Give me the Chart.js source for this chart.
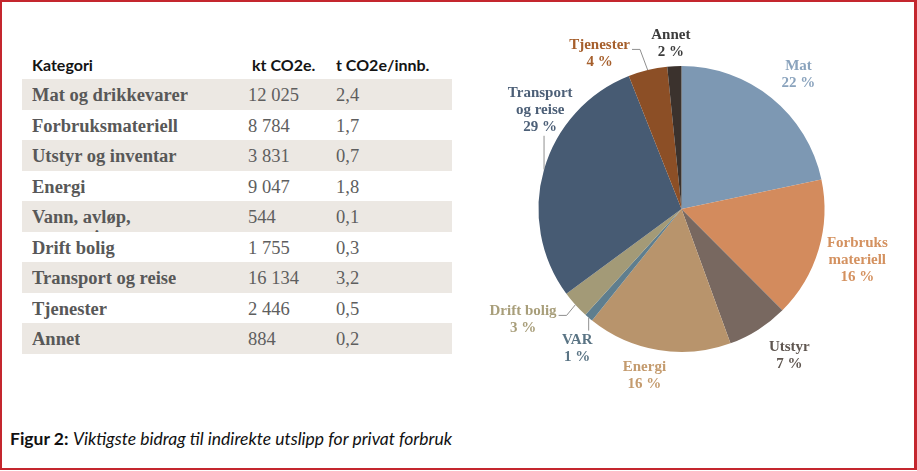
<!DOCTYPE html>
<html>
<head>
<meta charset="utf-8">
<script src="https://cdn.jsdelivr.net/npm/chart.js@4.4.1/dist/chart.umd.min.js"></script>
<style>
  html, body { margin: 0; padding: 0; background: #fff; }
  body { width: 917px; height: 471px; position: relative; overflow: hidden; }
  #frame { position: absolute; left: 0; top: 0; width: 912px; height: 466px;
           border: 2px solid #c4262e; border-right-width: 3px; }
  #table { position: absolute; left: 22px; top: 0; width: 430px; }
  .hdr { position: absolute; top: 55px; height: 24px; line-height: 24px;
         font: bold 16px Lato, "Liberation Sans", sans-serif; color: #141414; white-space: nowrap; }
  .row { position: absolute; left: 0; width: 430px; height: 31px; }
  .row.alt { background: #ece8e3; }
  .cell { position: absolute; top: 0; height: 31px; line-height: 33px; white-space: nowrap;
          font-family: "Liberation Serif", serif; font-size: 18.5px; color: #5e5e5e; }
  .cat { left: 10px; font-weight: bold; color: #585858; overflow: hidden; }
  .cat.wrap { white-space: normal; width: 150px; line-height: 20px; padding-top: 6px; height: 25px; }
  #pie { position: absolute; left: 460px; top: 0; }
  #caption { position: absolute; left: 10px; top: 428px; font: 17.5px Lato, "Liberation Sans", sans-serif; color: #111; }
</style>
</head>
<body>
<div id="frame"></div>
<div id="table"></div>
<canvas id="pie" width="457" height="400"></canvas>
<div id="caption"><b>Figur 2:</b> <i>Viktigste bidrag til indirekte utslipp for privat forbruk</i></div>
<script>
// table + pie data
const CATEGORIES = ['Mat og drikkevarer', 'Forbruksmateriell', 'Utstyr og inventar', 'Energi',
  'Vann, avløp, renovasjon', 'Drift bolig', 'Transport og reise', 'Tjenester', 'Annet'];
const KT_CO2E = [12025, 8784, 3831, 9047, 544, 1755, 16134, 2446, 884];
const T_PER_INNB = [2.4, 1.7, 0.7, 1.8, 0.1, 0.3, 3.2, 0.5, 0.2];
const HEADERS = ['Kategori', 'kt CO2e.', 't CO2e/innb.'];

const SLICE_LABELS = [['Mat'], ['Forbruks', 'materiell'], ['Utstyr'], ['Energi'], ['VAR'],
  ['Drift bolig'], ['Transport', 'og reise'], ['Tjenester'], ['Annet']];
const SLICE_COLORS = ['#7d98b3', '#d38b5d', '#786860', '#b8946c', '#5f7e8e',
  '#a39a77', '#475b73', '#8c4f26', '#3b322d'];
const LABEL_COLORS = ['#8aa3bd', '#d4915f', '#5f5650', '#c49b6e', '#5a7484',
  '#a89e7a', '#4c5f77', '#a65f2c', '#3c3c3c'];

// build the table
const fmtKt = v => String(v).replace(/\B(?=(\d{3})+(?!\d))/g, '\u00a0');
const fmtT = v => v.toFixed(1).replace('.', ',');
const tbl = document.getElementById('table');
const HDR_X = [10, 230, 314];
HEADERS.forEach((h, i) => {
  const d = document.createElement('div');
  d.className = 'hdr'; d.style.left = HDR_X[i] + 'px'; d.textContent = h;
  tbl.appendChild(d);
});
CATEGORIES.forEach((c, i) => {
  const row = document.createElement('div');
  row.className = 'row' + (i % 2 === 0 ? ' alt' : '');
  row.style.top = (79 + i * 30.5) + 'px';
  const cat = document.createElement('div');
  cat.className = 'cell cat' + (c.length > 20 ? ' wrap' : '');
  cat.textContent = c;
  const kt = document.createElement('div');
  kt.className = 'cell'; kt.style.left = '226px'; kt.textContent = fmtKt(KT_CO2E[i]);
  const t = document.createElement('div');
  t.className = 'cell'; t.style.left = '314px'; t.textContent = fmtT(T_PER_INNB[i]);
  row.append(cat, kt, t);
  tbl.appendChild(row);
});

// labels around the pie, placed from each arc's mid angle
const pieLabels = {
  id: 'pieLabels',
  afterDatasetsDraw(chart, args, opts) {
    const ctx = chart.ctx;
    const data = chart.data.datasets[0].data;
    const total = data.reduce((a, b) => a + b, 0);
    ctx.save();
    ctx.font = opts.font;
    ctx.textAlign = 'center';
    ctx.textBaseline = 'middle';
    chart.getDatasetMeta(0).data.forEach((arc, i) => {
      const mid = (arc.startAngle + arc.endAngle) / 2;
      const r = arc.outerRadius;
      const cos = Math.cos(mid), sin = Math.sin(mid);
      const n = opts.nudge[i];
      const x = arc.x + cos * (r + opts.gap) + n[0];
      const y = arc.y + sin * (r + opts.gap) + n[1];
      const lines = [...SLICE_LABELS[i], Math.round(data[i] / total * 100) + ' %'];
      const lh = opts.lineHeight;
      const top = y - (lines.length - 1) * lh / 2;
      ctx.fillStyle = LABEL_COLORS[i];
      lines.forEach((t, k) => ctx.fillText(t, x, top + k * lh));

      const lead = opts.leaders[i];
      if (!lead) return;
      const ex = arc.x + cos * r, ey = arc.y + sin * r;
      ctx.strokeStyle = '#8f8f8f';
      ctx.lineWidth = 1;
      ctx.beginPath();
      if (lead === 'side') {
        const sx = x + ctx.measureText(lines[0]).width / 2 + 2, sy = top + 4;
        ctx.moveTo(sx, sy); ctx.lineTo(sx + 8, sy); ctx.lineTo(ex, ey);
      } else if (lead === 'down') {
        ctx.moveTo(ex, ey); ctx.lineTo(ex, top - lh / 2 - 1);
      } else if (lead === 'up') {
        ctx.moveTo(ex, top + (lines.length - 1) * lh + lh / 2); ctx.lineTo(ex, ey);
      }
      ctx.stroke();
    });
    ctx.restore();
  }
};

new Chart(document.getElementById('pie'), {
  type: 'pie',
  data: {
    labels: SLICE_LABELS.map(l => l.join(' ')),
    datasets: [{ data: KT_CO2E, backgroundColor: SLICE_COLORS, borderWidth: 0 }]
  },
  options: {
    responsive: false,
    animation: false,
    layout: { padding: { left: 78.5, right: 92.5, top: 66, bottom: 48 } },
    plugins: {
      legend: { display: false },
      tooltip: { enabled: false },
      pieLabels: {
        font: 'bold 15px "Liberation Serif", serif',
        lineHeight: 17,
        gap: 30,
        nudge: [[8, 0], [10, 2], [15, 1], [-9, -4], [8, 8], [-30, -5], [25, -51], [-41, 13], [-2, 7]],
        leaders: [null, null, null, null, 'down', 'side', 'up', 'side', null],
      },
    },
  },
  plugins: [pieLabels],
});
</script>
</body>
</html>
